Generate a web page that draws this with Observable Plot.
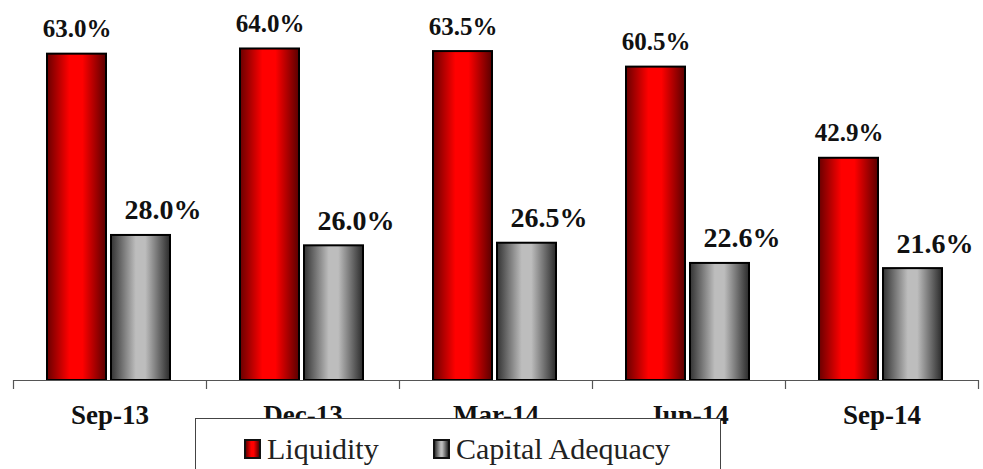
<!DOCTYPE html>
<html>
<head>
<meta charset="utf-8">
<script src="https://cdn.jsdelivr.net/npm/d3@7"></script>
<script src="https://cdn.jsdelivr.net/npm/@observablehq/plot@0.6"></script>
<style>
  html, body { margin: 0; padding: 0; background: #fff; }
  #wrap { position: relative; width: 983px; height: 469px; overflow: hidden; }
  #legend {
    position: absolute; left: 195px; top: 418px; width: 526px; height: 70px;
    background: #fff; border: 1px solid #444; box-sizing: border-box;
    font-family: 'Liberation Serif', 'DejaVu Serif', serif; font-size: 30px; color: #222;
  }
  .item { position: absolute; top: 13px; display: flex; align-items: center; white-space: nowrap; }
  .sw { width: 13px; height: 16px; border: 2px solid #111; margin-right: 6px; }
  svg text { font-family: 'Liberation Serif', 'DejaVu Serif', serif; }
</style>
</head>
<body>
<div id="wrap"></div>
<script>
const categories = ["Sep-13", "Dec-13", "Mar-14", "Jun-14", "Sep-14"];
const seriesNames = ["Liquidity", "Capital Adequacy"];
const liquidity = [63.0, 64.0, 63.5, 60.5, 42.9];
const capital = [28.0, 26.0, 26.5, 22.6, 21.6];

const redData = categories.map((c, i) => ({cat: c, v: liquidity[i]}));
const greyData = categories.map((c, i) => ({cat: c, v: capital[i]}));

const serif = "'Liberation Serif', 'DejaVu Serif', serif";

const defs = () => {
  const ns = "http://www.w3.org/2000/svg";
  const d = document.createElementNS(ns, "defs");
  d.innerHTML = `
    <linearGradient id="gRed" x1="0" x2="1" y1="0" y2="0">
      <stop offset="0" stop-color="#6a0000"/>
      <stop offset="0.38" stop-color="#ff0000"/>
      <stop offset="0.6" stop-color="#ff0000"/>
      <stop offset="1" stop-color="#5a0000"/>
    </linearGradient>
    <linearGradient id="gGrey" x1="0" x2="1" y1="0" y2="0">
      <stop offset="0" stop-color="#333"/>
      <stop offset="0.42" stop-color="#bdbdbd"/>
      <stop offset="0.58" stop-color="#bdbdbd"/>
      <stop offset="1" stop-color="#2a2a2a"/>
    </linearGradient>`;
  return d;
};

const chart = Plot.plot({
  width: 983,
  height: 469,
  marginLeft: 13,
  marginRight: 5,
  marginTop: 17,
  marginBottom: 89,
  style: {background: "transparent", fontFamily: serif},
  x: {domain: categories, padding: 0, range: [13, 978]},
  y: {domain: [0, 70], range: [380, 17.4]},
  marks: [
    defs,
    Plot.barY(redData, {x: "cat", y: "v", fill: "url(#gRed)", stroke: "#000", strokeWidth: 2, insetLeft: 34, insetRight: 100}),
    Plot.barY(greyData, {x: "cat", y: "v", fill: "url(#gGrey)", stroke: "#000", strokeWidth: 2, insetLeft: 98, insetRight: 36}),
    Plot.text(redData, {x: "cat", y: "v", text: d => d.v.toFixed(1) + "%", dx: -33, dy: -17, lineAnchor: "bottom",
      fontFamily: serif, fontWeight: "bold", fontSize: 25, fill: "#111"}),
    Plot.text(greyData, {x: "cat", y: "v", text: d => d.v.toFixed(1) + "%", dx: 53, dy: -16, lineAnchor: "bottom",
      fontFamily: serif, fontWeight: "bold", fontSize: 28, fill: "#111"}),
    Plot.ruleY([0], {stroke: "#555", strokeWidth: 1.2}),
    Plot.ruleX(categories, {x: d => d, dx: -96.5, y1: 0, y2: 0, insetBottom: -9, stroke: "#555", strokeWidth: 1.2}),
    Plot.ruleX(categories.slice(-1), {x: d => d, dx: 96.5, y1: 0, y2: 0, insetBottom: -9, stroke: "#555", strokeWidth: 1.2}),
    Plot.axisX({tickSize: 0, tickPadding: 24, fontFamily: serif, fontWeight: "bold", fontSize: 27, fill: "#111", label: null}),
    Plot.axisY({ticks: [], label: null})
  ]
});

const wrap = document.getElementById("wrap");
wrap.appendChild(chart);

const legend = document.createElement("div");
legend.id = "legend";
const swatches = [
  {name: seriesNames[0], bg: "linear-gradient(90deg,#6a0000,#ff0000 40%,#ff0000 60%,#5a0000)", left: 48},
  {name: seriesNames[1], bg: "linear-gradient(90deg,#333,#bdbdbd 45%,#bdbdbd 55%,#2a2a2a)", left: 237}
];
for (const s of swatches) {
  const it = document.createElement("div");
  it.className = "item";
  it.style.left = s.left + "px";
  const sw = document.createElement("span");
  sw.className = "sw";
  sw.style.background = s.bg;
  const t = document.createElement("span");
  t.textContent = s.name;
  it.appendChild(sw);
  it.appendChild(t);
  legend.appendChild(it);
}
wrap.appendChild(legend);
</script>
</body>
</html>
